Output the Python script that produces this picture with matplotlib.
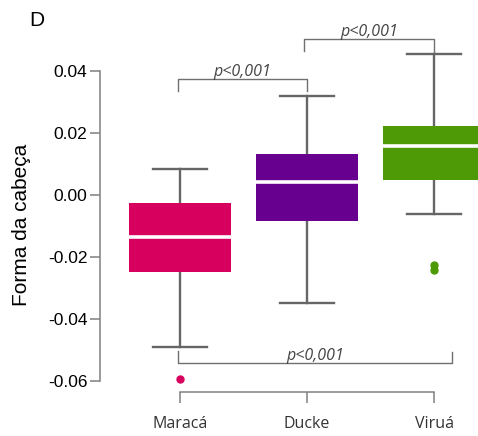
import matplotlib
matplotlib.use('Agg')
import matplotlib.pyplot as plt

sites = ['Maracá', 'Ducke', 'Viruá']
colors = ['#D7005F', '#67008F', '#4E9A06']
whislo = [-0.0490, -0.0348, -0.0061]
q1 = [-0.0248, -0.0084, 0.0048]
med = [-0.0135, 0.0042, 0.0158]
q3 = [-0.0026, 0.0132, 0.0222]
whishi = [0.0084, 0.0319, 0.0454]
fliers = [[-0.0593], [], [-0.0225, -0.0241]]
yticks = [-0.06, -0.04, -0.02, 0.00, 0.02, 0.04]
pval = 'p<0,001'

W, H = 478, 436
fig = plt.figure(figsize=(W / 100, H / 100), dpi=100)
ax = fig.add_axes([100 / W, 0, 1 - 100 / W, 1])
ax.set_xlim(0.370, 3.346)
ax.set_ylim(-0.0776, 0.0628)

stats = []
for i in range(3):
    stats.append(dict(whislo=whislo[i], q1=q1[i], med=med[i], q3=q3[i],
                      whishi=whishi[i], fliers=fliers[i]))

gray = '#666666'
bp = ax.bxp(stats, positions=[1, 2, 3], widths=0.8, capwidths=0.42,
            patch_artist=True,
            boxprops=dict(linewidth=0),
            medianprops=dict(color='white', linewidth=2.6),
            whiskerprops=dict(color=gray, linewidth=1.7),
            capprops=dict(color=gray, linewidth=1.7))
for b, c in zip(bp['boxes'], colors):
    b.set_facecolor(c)
    b.set_edgecolor(c)
for f, c in zip(bp['fliers'], colors):
    f.set_marker('o')
    f.set_markerfacecolor(c)
    f.set_markeredgecolor(c)
    f.set_markersize(5)
for w in bp['whiskers']:
    w.set_zorder(1)

# axes styling
for s in ['top', 'right']:
    ax.spines[s].set_visible(False)
ax.spines['left'].set_bounds(-0.06, 0.04)
ax.spines['left'].set_color('#808080')
ax.spines['left'].set_linewidth(1.1)
ax.spines['bottom'].set_position(('data', -0.0634))
ax.spines['bottom'].set_bounds(1, 3)
ax.spines['bottom'].set_color('#808080')
ax.spines['bottom'].set_linewidth(1.1)
ax.set_yticks(yticks)
ax.set_yticklabels([f'{v:.2f}' for v in yticks], fontfamily='Liberation Sans', fontsize=12.5)
ax.tick_params(axis='y', length=7, width=1.1, color='#808080', pad=2)
ax.set_xticks([1, 2, 3])
ax.set_xticklabels(sites, fontfamily='Open Sans', fontsize=11.5, color='#333333')
ax.tick_params(axis='x', length=8, width=1.1, color='#808080', pad=9)
ax.patch.set_visible(False)

fig.text(22 / W, 1 - 225 / H, 'Forma da cabeça', rotation=90, ha='center', va='center',
         fontfamily='Liberation Sans', fontsize=15)
fig.text(29 / W, 1 - 21 / H, 'D', ha='left', va='center',
         fontfamily='Liberation Sans', fontsize=15)

# significance brackets
bc = '#707070'
def bracket(x1, x2, y, yl, yr, ty):
    ax.plot([x1, x1, x2, x2], [yl, y, y, yr], color=bc, lw=1.0, clip_on=False)
    ax.text((x1 + x2) / 2, ty, pval, ha='center', va='bottom', fontstyle='italic',
            fontfamily='Open Sans', fontsize=11.5, color='#444444')

bracket(0.985, 2.0, 0.0373, 0.0334, 0.0334, 0.0369)
bracket(1.98, 3.0, 0.0503, 0.0464, 0.0461, 0.0499)
bracket(0.985, 3.14, -0.0541, -0.0502, -0.0506, -0.0545)

fig.savefig('out.png', dpi=100)
